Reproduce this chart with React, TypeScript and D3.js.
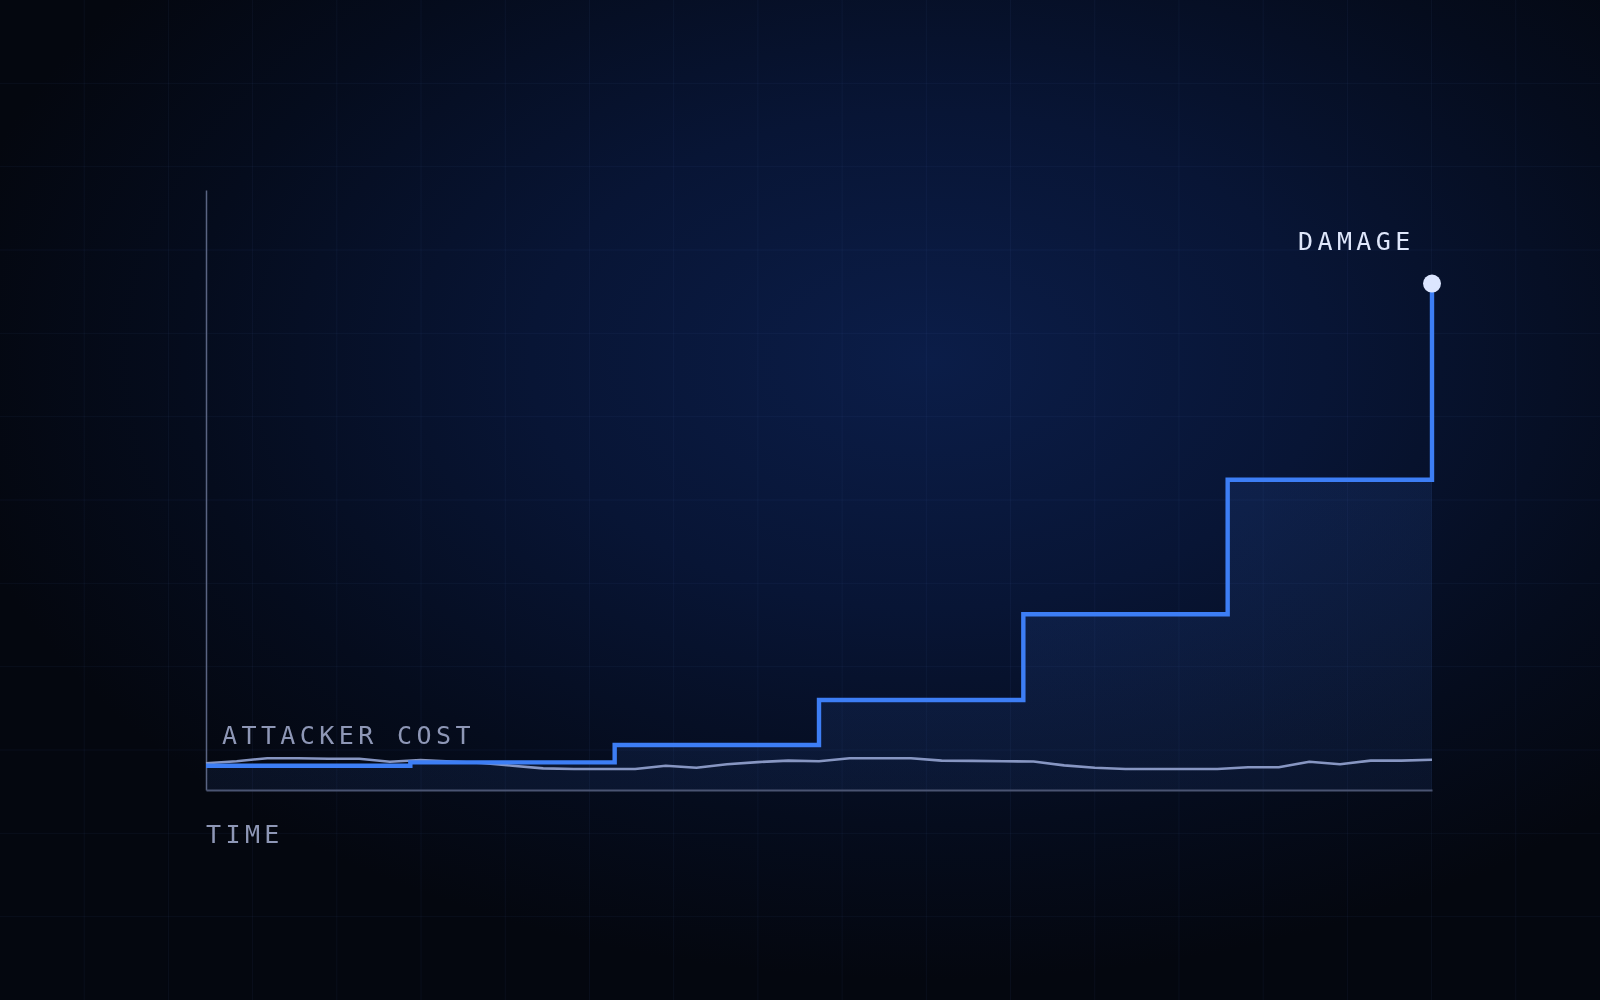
import React, { useEffect, useRef } from "react";
import * as d3 from "d3";

// ---- data ----
const damageSteps: number[] = [4.05, 4.6, 7.5, 15, 29.3, 51.7, 84.4];
const attackerCost: number[] = [
  4.45, 4.8, 5.3, 5.3, 5.2, 5.2, 4.7, 5.0, 4.75, 4.5,
  4.05, 3.6, 3.5, 3.5, 3.5, 4.05, 3.7, 4.3, 4.65, 4.9,
  4.8, 5.3, 5.3, 5.3, 4.9, 4.85, 4.8, 4.75, 4.1, 3.7,
  3.5, 3.5, 3.5, 3.5, 3.8, 3.8, 4.7, 4.3, 4.9, 4.9, 5.05,
];
const labelDamage = "DAMAGE";
const labelCost = "ATTACKER COST";
const labelTime = "TIME";

const W = 1600;
const H = 1000;
const PLOT = { left: 206, right: 1432, top: 190, bottom: 790 };
const FONT = "'DejaVu Sans Mono', 'Liberation Mono', monospace";

export default function App() {
  const xAxisRef = useRef<SVGGElement>(null);
  const yAxisRef = useRef<SVGGElement>(null);

  const y = d3.scaleLinear().domain([0, 100]).range([PLOT.bottom, PLOT.top]);
  const xDamage = d3
    .scaleLinear()
    .domain([0, damageSteps.length - 1])
    .range([PLOT.left, PLOT.right]);
  const xCost = d3
    .scaleLinear()
    .domain([0, attackerCost.length - 1])
    .range([PLOT.left, PLOT.right]);

  const damageLine = d3
    .line<number>()
    .x((_, i) => xDamage(i))
    .y((d) => y(d))
    .curve(d3.curveStepAfter);
  const damageArea = d3
    .area<number>()
    .x((_, i) => xDamage(i))
    .y0(y(0))
    .y1((d) => y(d))
    .curve(d3.curveStepAfter);
  const costLine = d3
    .line<number>()
    .x((_, i) => xCost(i))
    .y((d) => y(d))
    .curve(d3.curveLinear);

  useEffect(() => {
    if (xAxisRef.current) {
      const g = d3.select(xAxisRef.current);
      g.call(d3.axisBottom(xCost).tickValues([]).tickSizeOuter(0) as any);
      g.select(".domain").attr("stroke", "#4a5472").attr("stroke-width", 2);
    }
    if (yAxisRef.current) {
      const g = d3.select(yAxisRef.current);
      g.call(d3.axisLeft(y).tickValues([]).tickSizeOuter(0) as any);
      g.select(".domain").attr("stroke", "#5a6482").attr("stroke-width", 1.5);
    }
  }, []);

  const gridX = d3.range(1, 19).map((i) => (i * W) / 19);
  const gridY = d3.range(1, 12).map((i) => (i * H) / 12);

  const last = damageSteps.length - 1;

  return (
    <div style={{ position: "fixed", left: 0, top: 0, width: W, height: H }}>
      <svg width={W} height={H} style={{ display: "block" }}>
        <defs>
          <radialGradient id="bg" cx="58%" cy="36%" r="62%" gradientUnits="objectBoundingBox">
            <stop offset="0%" stopColor="#0b1d48" />
            <stop offset="40%" stopColor="#081535" />
            <stop offset="75%" stopColor="#050c1d" />
            <stop offset="100%" stopColor="#04070f" />
          </radialGradient>
          <linearGradient id="areaFill" x1="0" y1="0" x2="0" y2="1">
            <stop offset="0%" stopColor="#3b6fd8" stopOpacity={0.14} />
            <stop offset="100%" stopColor="#3b6fd8" stopOpacity={0.1} />
          </linearGradient>
        </defs>
        <rect x={0} y={0} width={W} height={H} fill="url(#bg)" />
        <g>
          {gridX.map((gx) => (
            <line key={"gx" + gx} x1={gx} x2={gx} y1={0} y2={H} stroke="#6a8ad0" strokeOpacity={0.065} strokeWidth={1} />
          ))}
          {gridY.map((gy) => (
            <line key={"gy" + gy} x1={0} x2={W} y1={gy} y2={gy} stroke="#6a8ad0" strokeOpacity={0.065} strokeWidth={1} />
          ))}
        </g>

        <path d={damageArea(damageSteps) || ""} fill="url(#areaFill)" />

        <g ref={yAxisRef} transform={`translate(${PLOT.left},0)`} />
        <g ref={xAxisRef} transform={`translate(0,${PLOT.bottom})`} />

        <path
          d={costLine(attackerCost) || ""}
          fill="none"
          stroke="#8796c2"
          strokeWidth={2.6}
          strokeLinejoin="round"
        />
        <path
          d={damageLine(damageSteps) || ""}
          fill="none"
          stroke="#3d7ef5"
          strokeWidth={4.4}
          strokeLinejoin="miter"
        />
        <circle cx={xDamage(last)} cy={y(damageSteps[last])} r={9} fill="#dce6ff" />

        <text
          x={1298}
          y={250}
          fill="#dfe7fb"
          fontFamily={FONT}
          fontSize={25}
          letterSpacing={4.4}
        >
          {labelDamage}
        </text>
        <text
          x={222}
          y={743.5}
          fill="#8e97b6"
          fontFamily={FONT}
          fontSize={25}
          letterSpacing={4.4}
        >
          {labelCost}
        </text>
        <text
          x={PLOT.left}
          y={842.5}
          fill="#8e97b6"
          fontFamily={FONT}
          fontSize={25}
          letterSpacing={4.4}
        >
          {labelTime}
        </text>
      </svg>
    </div>
  );
}
